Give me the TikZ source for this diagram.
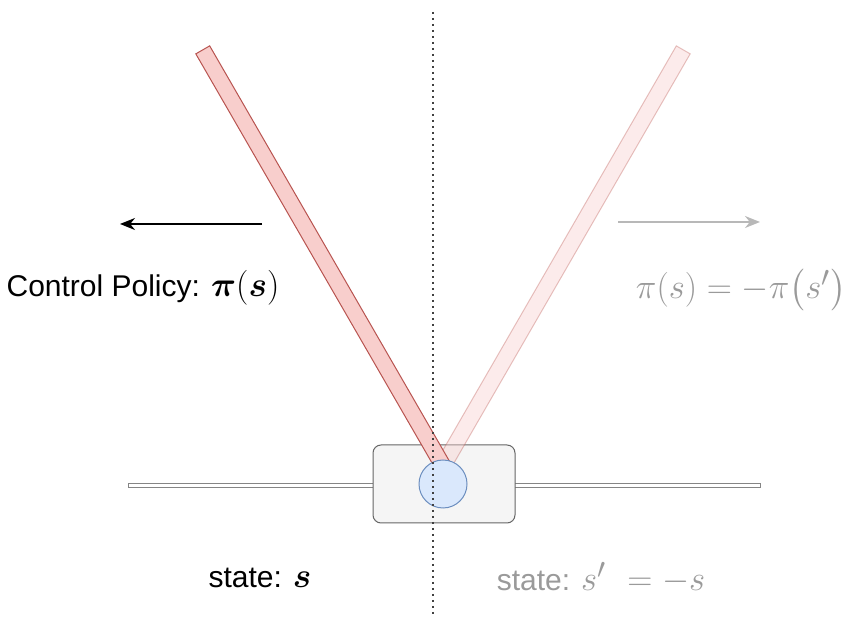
\documentclass[tikz,border=0pt]{standalone}
\usepackage{fontspec}
\setmainfont{Liberation Sans}
\usepackage{amsmath,bm}
\usetikzlibrary{arrows.meta}
\definecolor{PoleRed}{HTML}{F8CECC}
\definecolor{PoleEdge}{HTML}{B85450}
\definecolor{JointBlue}{HTML}{DAE8FC}
\definecolor{JointEdge}{HTML}{6C8EBF}
\definecolor{CartGray}{HTML}{F5F5F5}
\definecolor{CartEdge}{HTML}{666666}
\definecolor{FadeGray}{HTML}{9A9A9A}
\newcommand{\bigmath}[1]{\scalebox{1.4}{$#1$}}

\begin{document}
\begin{tikzpicture}[
    x=1pt, y=1pt, font=\fontsize{30}{34}\selectfont,
    pole/.style={draw=PoleEdge, fill=PoleRed, line width=1pt, inner sep=0pt,
                 minimum width=16pt, minimum height=480pt, anchor=south},
    ghost/.style={draw opacity=0.35, fill opacity=0.4},
    cart/.style={draw=CartEdge, fill=CartGray, rounded corners=8pt, line width=1pt,
                 minimum width=142pt, minimum height=78pt, inner sep=0pt},
    joint/.style={circle, draw=JointEdge, fill=JointBlue, line width=1pt,
                  minimum size=48pt, inner sep=0pt},
    rail/.style={draw=CartEdge!80, fill=white, line width=0.8pt, inner sep=0pt,
                 minimum width=632pt, minimum height=4pt},
    push/.style={-{Stealth[length=15pt, width=12pt]}, line width=2pt},
    axis/.style={draw=black!75, line width=1.5pt, dash pattern=on 2.5pt off 3.5pt}
  ]
    \useasboundingbox (0,0) rectangle (849,621);

    % Track and cart
    \node[rail] (rail) at (444,136) {};
    \node[cart] (cart) at (444,137) {};

    % Poles (mirrored one faded)
    \coordinate (pivot) at (443,155);
    \node[pole, ghost, rotate=-30] (poleR) at (pivot) {};
    \node[pole, rotate=30] (poleL) at (pivot) {};
    \node[joint] (joint) at (443,137) {};

    % Symmetry axis
    \coordinate (axtop) at (433,609);
    \coordinate (axbot) at (433,6);
    \draw[axis] (axtop) -- (axbot);

    % Actions
    \coordinate (pushL0) at (262,397);
    \coordinate (pushL1) at (120,397);
    \coordinate (pushR0) at (618,399);
    \coordinate (pushR1) at (760,399);
    \draw[push] (pushL0) -- (pushL1);
    \draw[push, FadeGray!70] (pushR0) -- (pushR1);

    % Labels
    \node (policy) at (143,333) {Control Policy: \bigmath{\boldsymbol{\pi}(\bm{s})}};
    \node[text=FadeGray] (mirror) at (741,331) {\bigmath{\pi(s) = -\pi\bigl(s'\bigr)}};
    \node (state) at (260,43) {state: \bigmath{\bm{s}}};
    \node[text=FadeGray] (stateR) at (601,43) {state: \bigmath{s'\ = -s}};
  \end{tikzpicture}
\end{document}
